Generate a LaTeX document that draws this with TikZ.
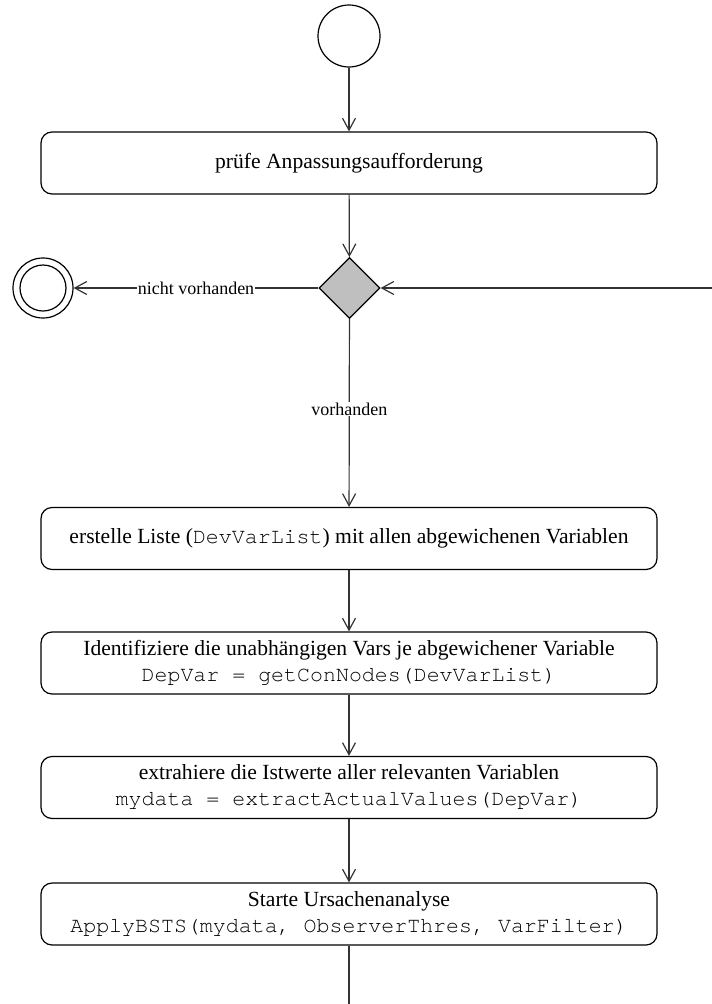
\documentclass[tikz,border=0pt]{standalone}
\usepackage{fontspec}
\setmainfont{Liberation Serif}
\newfontfamily\codefont{TeX Gyre Cursor}
\usetikzlibrary{arrows.meta,shapes.geometric}
\begin{document}
\begin{tikzpicture}[x=1pt,y=1pt,
  line width=1.2pt,
  conn/.style={draw=black!80,-{Straight Barb[length=12pt,width=13pt,line width=1.2pt]}},
  plain/.style={draw=black!80},
  act/.style={draw,rounded corners=11pt,minimum width=616pt,minimum height=62pt,inner sep=0pt,align=center,
     font=\fontsize{21.6}{26}\selectfont},
  lbl/.style={fill=white,inner sep=0.5pt,font=\fontsize{18}{20}\selectfont},
  initst/.style={draw,circle,minimum size=62pt,inner sep=0pt},
  dec/.style={draw,diamond,fill=black!25,minimum width=61pt,minimum height=61pt,inner sep=0pt}
]
\useasboundingbox (0,0) rectangle (712,-1004);
\node[initst] (start) at (349,-36) {};
\node[act] (a1) at (349,-163) {prüfe Anpassungsaufforderung};
\node[dec] (d) at (349.5,-288) {};
\node[draw,circle,minimum size=60pt,inner sep=0pt] (fin) at (43,-288) {};
\node[draw,circle,minimum size=46pt,inner sep=0pt] (finin) at (43,-288) {};
\coordinate (r) at (712,-288);
\node[act] (a2) at (349,-538.5) {erstelle Liste ({\codefont DevVarList}) mit allen abgewichenen Variablen};
\node[act] (a3) at (349,-663) {Identifiziere die unabhängigen Vars je abgewichener Variable\\{\codefont DepVar = getConNodes(DevVarList)}};
\node[act] (a4) at (349,-787.5) {extrahiere die Istwerte aller relevanten Variablen\\{\codefont mydata = extractActualValues(DepVar)}};
\node[act] (a5) at (349,-914) {Starte Ursachenanalyse\\{\codefont ApplyBSTS(mydata, ObserverThres, VarFilter)}};
\coordinate (b) at (349,-1004);

\draw[conn] (start) -- (a1);
\draw[conn] (a1) -- (d);
\draw[conn] (d) -- node[lbl] {nicht vorhanden} (fin);
\draw[conn] (r) -- (d);
\draw[conn] (d) -- node[lbl,pos=0.48] {vorhanden} (a2);
\draw[conn] (a2) -- (a3);
\draw[conn] (a3) -- (a4);
\draw[conn] (a4) -- (a5);
\draw[plain] (a5) -- (b);
\end{tikzpicture}
\end{document}
